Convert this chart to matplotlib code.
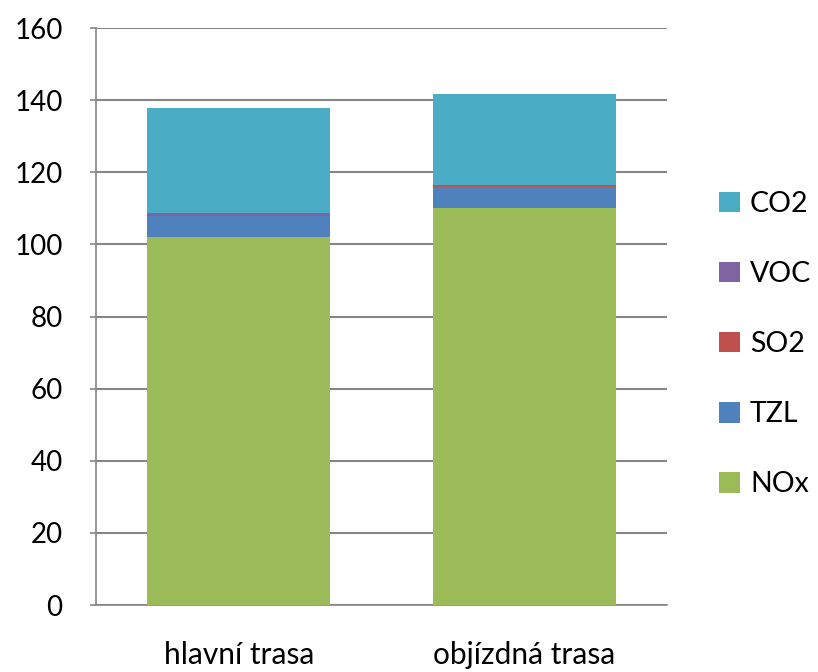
import matplotlib
matplotlib.use("Agg")
import matplotlib.pyplot as plt
import numpy as np

# data
categories = ["hlavní trasa", "objízdná trasa"]
nox = [102.1, 110.1]
tzl = [5.9, 5.9]
so2 = [0.2, 0.5]
voc = [0.4, 0.1]
co2 = [29.3, 25.1]

series = [("NOx", nox, "#9bbb59"), ("TZL", tzl, "#4f81bd"), ("SO2", so2, "#c0504d"),
          ("VOC", voc, "#8064a2"), ("CO2", co2, "#4bacc6")]

plt.rcParams["font.family"] = ["Lato", "DejaVu Sans"]

fig = plt.figure(figsize=(8.18, 6.72), dpi=100)
ax = fig.add_axes([0.1174, 0.0997, 0.698, 0.8586])

x = np.arange(len(categories))
bottom = np.zeros(len(categories))
handles = []
for name, vals, color in series:
    b = ax.bar(x, vals, width=0.64, bottom=bottom, color=color, label=name, zorder=3)
    bottom += np.array(vals)
    handles.append(b)

ax.set_xlim(-0.5, 1.5)
ax.set_ylim(0, 160)
ax.set_yticks(np.arange(0, 161, 20))
ax.set_xticks(x)
ax.set_xticklabels(categories, fontsize=21.5)
ax.tick_params(axis="y", labelsize=20, length=4, width=1.2, color="#868686", pad=20)
ax.tick_params(axis="x", length=0, pad=26)
ax.grid(axis="y", color="#868686", linewidth=1.5, zorder=0)
for s in ["top", "right"]:
    ax.spines[s].set_visible(False)
for s in ["left", "bottom"]:
    ax.spines[s].set_color("#868686")
    ax.spines[s].set_linewidth(1.2)

leg = ax.legend(handles[::-1], [h.get_label() for h in handles[::-1]],
                loc="center left", bbox_to_anchor=(1.057, 0.452), frameon=False,
                fontsize=20.5, handlelength=0.72, handleheight=0.72,
                handletextpad=0.35, labelspacing=1.55, borderaxespad=0.3)

fig.savefig("out.png", dpi=100)
